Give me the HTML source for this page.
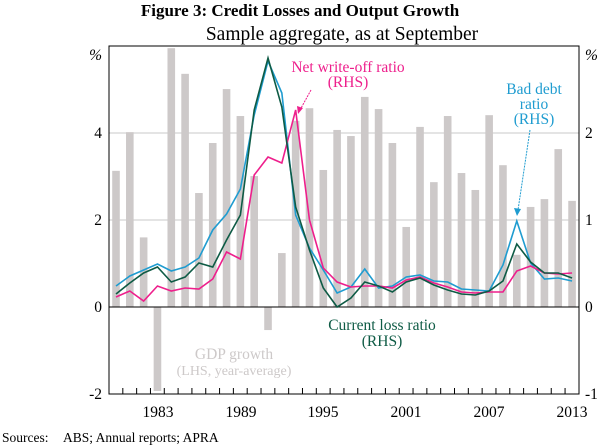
<!DOCTYPE html>
<html><head><style>body{margin:0;background:#fff}svg{display:block}</style></head><body>
<svg width="600" height="448" xmlns="http://www.w3.org/2000/svg" font-family="Liberation Serif, serif">
<text x="300" y="16" text-anchor="middle" font-size="17" font-weight="bold">Figure 3: Credit Losses and Output Growth</text>
<text x="342" y="40" text-anchor="middle" font-size="19.5">Sample aggregate, as at September</text>
<line x1="109" y1="133" x2="579" y2="133" stroke="#c8c8c8"/>
<line x1="109" y1="220" x2="579" y2="220" stroke="#c8c8c8"/>
<g id="bars" fill="#cdc9c9"></g>
<line x1="109" y1="307" x2="579" y2="307" stroke="#000"/>
<g id="ticks" stroke="#000"></g>
<rect x="109" y="46" width="470" height="348" fill="none" stroke="#000"/>
<polyline id="blue" fill="none" stroke="#1f9cd0" stroke-width="1.6"/>
<polyline id="pink" fill="none" stroke="#ee1f8c" stroke-width="1.6"/>
<polyline id="green" fill="none" stroke="#0e5b45" stroke-width="1.6"/>
<g font-size="15.5">
<text x="102" y="60" text-anchor="end" font-style="italic">%</text>
<text x="102" y="138" text-anchor="end">4</text>
<text x="102" y="225" text-anchor="end">2</text>
<text x="102" y="312" text-anchor="end">0</text>
<text x="102" y="399" text-anchor="end">-2</text>
<text x="585" y="60" font-style="italic">%</text>
<text x="585" y="138">2</text>
<text x="585" y="225">1</text>
<text x="585" y="312">0</text>
<text x="585" y="399">-1</text>
<text x="158" y="417" text-anchor="middle">1983</text>
<text x="241" y="417" text-anchor="middle">1989</text>
<text x="323" y="417" text-anchor="middle">1995</text>
<text x="406" y="417" text-anchor="middle">2001</text>
<text x="489" y="417" text-anchor="middle">2007</text>
<text x="572" y="417" text-anchor="middle">2013</text>
<text x="348" y="72" text-anchor="middle" fill="#ee1f8c">Net write-off ratio</text>
<text x="348" y="87" text-anchor="middle" fill="#ee1f8c">(RHS)</text>
<text x="534" y="94" text-anchor="middle" fill="#1f9cd0">Bad debt</text>
<text x="534" y="109" text-anchor="middle" fill="#1f9cd0">ratio</text>
<text x="534" y="124" text-anchor="middle" fill="#1f9cd0">(RHS)</text>
<text x="382" y="330" text-anchor="middle" fill="#0e5b45">Current loss ratio</text>
<text x="382" y="346" text-anchor="middle" fill="#0e5b45">(RHS)</text>
<text x="234" y="359" text-anchor="middle" fill="#cdc9c9">GDP growth</text>
<text x="234" y="375" text-anchor="middle" fill="#cdc9c9" font-size="14">(LHS, year-average)</text>
<text x="2" y="442" font-size="13.5">Sources:</text>
<text x="63" y="442" font-size="13.5">ABS; Annual reports; APRA</text>
</g>
<line x1="311" y1="90" x2="300" y2="110" stroke="#ee1f8c" stroke-dasharray="2,1"/>
<polygon points="298,114 297,106 303,108" fill="#ee1f8c"/>
<line x1="530" y1="130" x2="518" y2="210" stroke="#1f9cd0" stroke-dasharray="2,1"/>
<polygon points="517,216 514,208 521,209" fill="#1f9cd0"/>
<script>
var gdp=[3.13,4.02,1.6,-1.93,5.95,5.36,2.62,3.77,5.01,4.39,3.01,-0.53,1.24,4.28,4.57,3.15,4.07,3.93,4.83,4.55,3.77,1.84,4.14,2.87,4.39,3.08,2.69,4.41,3.26,1.2,2.3,2.48,3.63,2.44];
var X=function(i){return 116+13.82*i};
var g=document.getElementById('bars'),t=document.getElementById('ticks'),ns='http://www.w3.org/2000/svg';
gdp.forEach(function(v,i){var r=document.createElementNS(ns,'rect');var y=307-v*43.5;r.setAttribute('x',X(i)-3.8);r.setAttribute('width',7.6);r.setAttribute('y',Math.min(y,307));r.setAttribute('height',Math.abs(307-y));g.appendChild(r);});
for(var i=1;i<34;i++){var l=document.createElementNS(ns,'line');var x=109+13.82*i;l.setAttribute('x1',x);l.setAttribute('x2',x);l.setAttribute('y1',394);l.setAttribute('y2',388);t.appendChild(l);}
var blue=[286,276,270,264,271,267,258,230,214,189,115,61,93,215,248,270,293,287,269,288,286,277,275,281,282,289,290,291,265,221,263,279,278,281];
var green=[294,283,273,267,282,277,263,267,240,215,110,58,107,207,250,288,307,298,282,286,292,282,278,285,290,294,295,291,281,244,262,273,273,278];
var pink=[297,291,301,286,291,288,289,279,252,259,175,157,163,110,220,268,282,287,286,286,288,280,277,283,287,292,293,292,292,271,266,273,274,273];
function s(id,a){document.getElementById(id).setAttribute('points',a.map(function(y,i){return X(i)+','+y}).join(' '));}
s('blue',blue);s('pink',pink);s('green',green);
</script>
</svg>
</body></html>
